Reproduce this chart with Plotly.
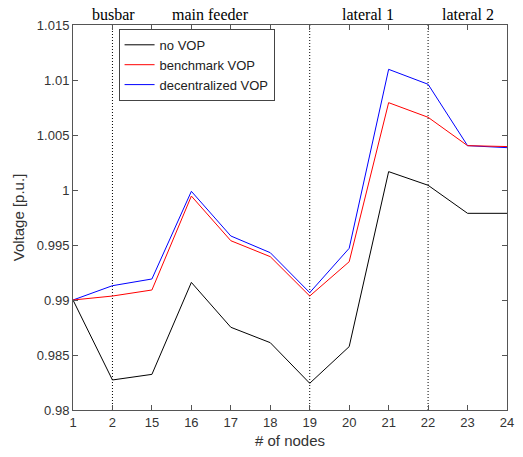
import plotly.graph_objects as go

nodes = ["1", "2", "15", "16", "17", "18", "19", "20", "21", "22", "23", "24"]
no_vop = [0.9900, 0.98273, 0.98324, 0.99160, 0.98752, 0.98612, 0.98243, 0.98576, 1.00167, 1.00043, 0.99788, 0.99788]
benchmark_vop = [0.9900, 0.99036, 0.99091, 0.99945, 0.99539, 0.99394, 0.99036, 0.99348, 1.00794, 1.00661, 1.00403, 1.00395]
decentral_vop = [0.9900, 0.99130, 0.99191, 0.99988, 0.99582, 0.99430, 0.99067, 0.99470, 1.01097, 1.00961, 1.00403, 1.00385]
section_lines = ["2", "19", "22"]
section_labels = ["busbar", "main feeder", "lateral 1", "lateral 2"]
section_label_pos = [1.03, 3.48, 7.48, 10.02]

fig = go.Figure()
fig.add_trace(go.Scatter(x=nodes, y=no_vop, mode="lines", name="no VOP",
                         line=dict(color="#000000", width=1), legendrank=1))
fig.add_trace(go.Scatter(x=nodes, y=decentral_vop, mode="lines", name="decentralized VOP",
                         line=dict(color="#0000ff", width=1), legendrank=3))
fig.add_trace(go.Scatter(x=nodes, y=benchmark_vop, mode="lines", name="benchmark VOP",
                         line=dict(color="#ff0000", width=1), legendrank=2))

for xv in section_lines:
    idx = nodes.index(xv)
    fig.add_shape(type="line", xref="x", yref="paper", x0=idx, x1=idx, y0=0, y1=1,
                  line=dict(color="#000000", width=1, dash="1px,2px"), layer="below")

for lab, pos in zip(section_labels, section_label_pos):
    fig.add_annotation(text=lab, x=pos, xref="x", y=1.0, yref="paper", yanchor="bottom",
                       showarrow=False, yshift=0,
                       font=dict(family="Liberation Serif", size=16, color="#000000"))

axis_common = dict(showgrid=False, zeroline=False, showline=True, linecolor="#555555",
                   linewidth=1, mirror="ticks", ticks="inside", ticklen=5, tickcolor="#555555",
                   tickfont=dict(family="Liberation Sans", size=13, color="#333333"))

fig.update_layout(
    width=523, height=457,
    margin=dict(l=73, r=9, t=25, b=47),
    paper_bgcolor="white", plot_bgcolor="white",
    font=dict(family="Liberation Sans", color="#333333"),
    xaxis=dict(type="category", range=[0, 11], title=dict(text="# of nodes", font=dict(size=15), standoff=6),
               **axis_common),
    yaxis=dict(range=[0.98, 1.015], tickvals=[0.98, 0.985, 0.99, 0.995, 1.0, 1.005, 1.01, 1.015],
               ticktext=["0.98", "0.985", "0.99", "0.995", "1", "1.005", "1.01", "1.015"],
               title=dict(text="Voltage [p.u.]", font=dict(size=15), standoff=8), **axis_common),
    legend=dict(x=0.105, y=0.99, xanchor="left", yanchor="top", bgcolor="white",
                bordercolor="#444444", borderwidth=1,
                font=dict(family="Liberation Sans", size=13, color="#222222"),
                tracegroupgap=0, itemwidth=30),
    showlegend=True,
)

fig.write_html("out.html")
